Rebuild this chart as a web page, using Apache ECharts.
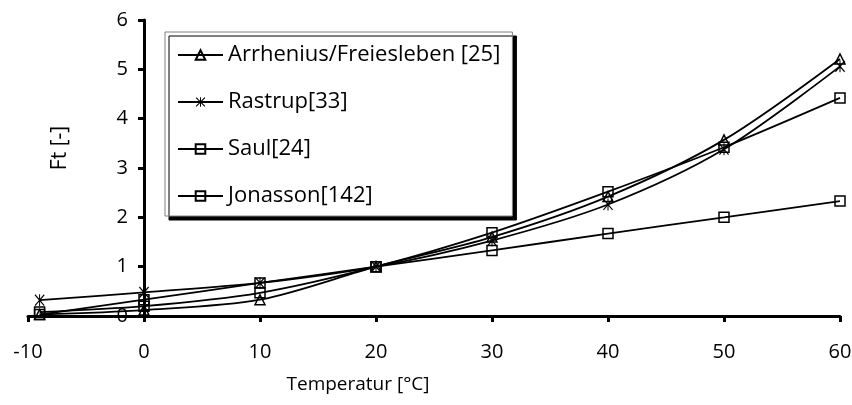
<!DOCTYPE html>
<html>
<head>
<meta charset="utf-8">
<script src="https://cdn.jsdelivr.net/npm/echarts@6/dist/echarts.min.js"></script>
<style>
  html, body { margin: 0; padding: 0; background: #fff; }
  #chart { width: 852px; height: 405px; }
</style>
</head>
<body>
<div id="chart"></div>
<script>
// Temperature points (°C) and the relative maturity factor Ft of each model
const temperatures = [-9, 0, 10, 20, 30, 40, 50, 60];
const arrhenius = [0.03, 0.12, 0.33, 1, 1.60, 2.42, 3.57, 5.21];
const rastrup   = [0.32, 0.48, 0.67, 1, 1.53, 2.26, 3.38, 5.06];
const saul      = [0.03, 0.33, 0.67, 1, 1.33, 1.67, 2.00, 2.33];
const jonasson  = [0.08, 0.20, 0.47, 1, 1.69, 2.52, 3.42, 4.42];

const seriesNames = ['Arrhenius/Freiesleben [25]', 'Rastrup[33]', 'Saul[24]', 'Jonasson[142]'];

const FONT = 'Open Sans';
const X_MIN = -10, X_MAX = 60, Y_MIN = 0, Y_MAX = 6;

// six-armed asterisk marker: a vertical bar and two diagonals
const asterisk = 'path://M9,0L11,0L11,20L9,20Z' +
  'M1.78,0.22L19.78,18.22L18.22,19.78L0.22,1.78Z' +
  'M18.22,0.22L19.78,1.78L1.78,19.78L0.22,18.22Z';

function pairs(ys) {
  return temperatures.map((t, i) => [t, ys[i]]);
}

function lineSeries(name, ys, symbol, size, filled) {
  return {
    name: name,
    type: 'line',
    xAxisIndex: 0,
    yAxisIndex: 0,
    data: pairs(ys),
    smooth: 0.3,
    symbol: symbol,
    symbolSize: size,
    showAllSymbol: true,
    lineStyle: { color: '#000', width: 1.8 },
    itemStyle: filled
      ? { color: '#000', borderWidth: 0 }
      : { color: 'rgba(0,0,0,0)', borderColor: '#000', borderWidth: 1.5 },
    emphasis: { disabled: true },
    z: 3
  };
}

// plot area geometry
const plotTop = 20, plotBottom = 89, plotRight = 12, plotLeft = 28;
// the visible Ft axis stands at T = 0 °C
const zeroX = plotLeft + (0 - X_MIN) / (X_MAX - X_MIN) * (852 - plotLeft - plotRight);

const chart = echarts.init(document.getElementById('chart'), null, { renderer: 'canvas' });

chart.setOption({
  animation: false,
  backgroundColor: '#fff',
  textStyle: { fontFamily: FONT },
  grid: [
    { left: plotLeft, right: plotRight, top: plotTop, bottom: plotBottom, containLabel: false, outerBoundsMode: 'none' },
    { left: zeroX, right: plotRight, top: plotTop, bottom: plotBottom, containLabel: false, outerBoundsMode: 'none' }
  ],
  xAxis: [
    {
      gridIndex: 0,
      type: 'value',
      min: X_MIN, max: X_MAX, interval: 10,
      name: 'Temperatur [°C]',
      nameLocation: 'middle',
      nameGap: 59,
      nameTextStyle: { fontFamily: FONT, fontSize: 19, color: '#000', padding: [0, 152, 0, 0] },
      axisLine: { onZero: false, lineStyle: { color: '#000', width: 3 } },
      axisTick: { show: true, inside: false, length: 6, lineStyle: { color: '#000', width: 3 } },
      axisLabel: { fontFamily: FONT, fontSize: 20, color: '#000', margin: 26 },
      splitLine: { show: false }
    },
    { gridIndex: 1, type: 'value', min: 0, max: 1, show: false }
  ],
  yAxis: [
    { gridIndex: 0, type: 'value', min: Y_MIN, max: Y_MAX, show: false },
    {
      gridIndex: 1,
      type: 'value',
      min: Y_MIN, max: Y_MAX, interval: 1,
      name: 'Ft [-]',
      nameLocation: 'middle',
      nameGap: 73,
      nameRotate: 90,
      nameTextStyle: { fontFamily: FONT, fontSize: 21, color: '#000', padding: [0, 0, 0, 40] },
      axisLine: { show: true, onZero: false, lineStyle: { color: '#000', width: 3 } },
      axisTick: { show: true, inside: false, length: 6, lineStyle: { color: '#000', width: 3 } },
      axisLabel: { fontFamily: FONT, fontSize: 20, color: '#000', margin: 16 },
      splitLine: { show: false }
    }
  ],
  legend: {
    orient: 'vertical',
    left: 165,
    top: 32,
    padding: [12, 12, 9, 12],
    itemGap: 25,
    itemWidth: 45,
    itemHeight: 12,
    backgroundColor: '#fff',
    borderColor: '#808080',
    borderWidth: 1,
    shadowColor: '#000',
    shadowBlur: 0,
    shadowOffsetX: 4,
    shadowOffsetY: 4,
    textStyle: { fontFamily: FONT, fontSize: 22, color: '#000', lineHeight: 22, padding: [0, 0, 0, 0] },
    data: seriesNames,
    selectedMode: false
  },
  series: [
    lineSeries(seriesNames[0], arrhenius, 'triangle', 10, false),
    lineSeries(seriesNames[1], rastrup, asterisk, [10, 12], true),
    lineSeries(seriesNames[2], saul, 'rect', 10, false),
    lineSeries(seriesNames[3], jonasson, 'rect', 10, false)
  ]
});
</script>
</body>
</html>
